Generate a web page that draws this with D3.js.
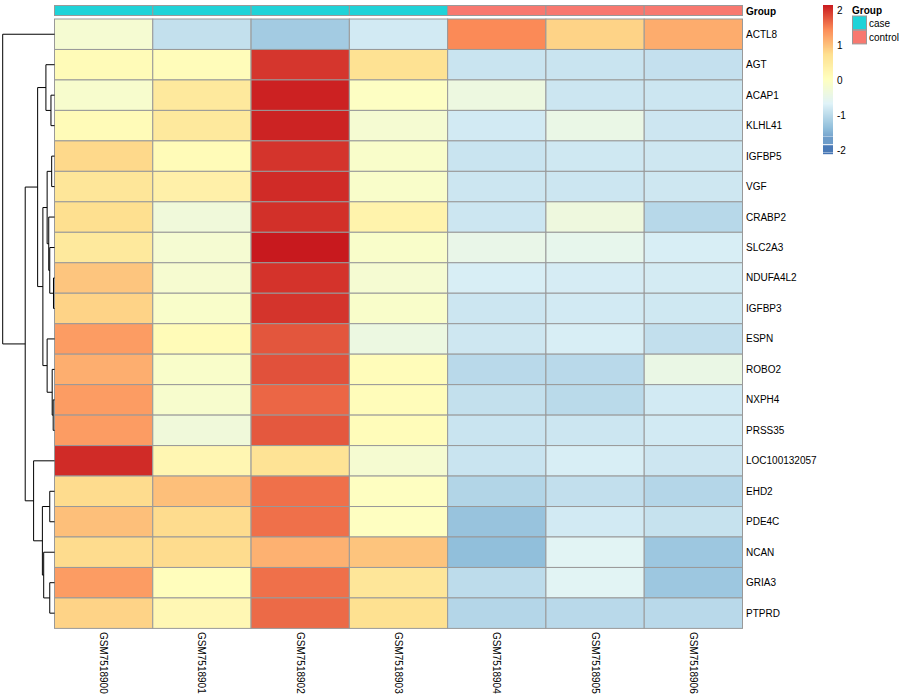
<!DOCTYPE html>
<html><head><meta charset="utf-8">
<script src="https://cdn.jsdelivr.net/npm/d3@7"></script>
<style>html,body{margin:0;padding:0;background:#fff;}svg{display:block;font-family:"Liberation Sans",Arial,Helvetica,sans-serif;}</style>
</head><body><svg id="chart" width="900" height="700"></svg>
<script>
const samples = ["GSM7518900","GSM7518901","GSM7518902","GSM7518903","GSM7518904","GSM7518905","GSM7518906"];
const groups = ["case","case","case","case","control","control","control"];
const groupLevels = ["case","control"];
const groupColors = ["#1FD3D8","#F8786F"];
const genes = ["ACTL8","AGT","ACAP1","KLHL41","IGFBP5","VGF","CRABP2","SLC2A3","NDUFA4L2","IGFBP3","ESPN","ROBO2","NXPH4","PRSS35","LOC100132057","EHD2","PDE4C","NCAN","GRIA3","PTPRD"];
const expr = [
  [-0.18,-0.91,-1.19,-0.77, 1.47, 0.86, 1.19],
  [ 0.15, 0.12, 1.99, 0.70,-0.85,-0.85,-0.90],
  [-0.12, 0.55, 2.12, 0.00,-0.36,-0.83,-0.83],
  [ 0.15, 0.55, 2.11,-0.18,-0.77,-0.43,-0.82],
  [ 0.81, 0.15, 2.00,-0.09,-0.85,-0.80,-0.81],
  [ 0.62, 0.38, 2.06,-0.09,-0.83,-0.83,-0.81],
  [ 0.75,-0.28, 2.03, 0.33,-0.83,-0.33,-1.01],
  [ 0.55,-0.18, 2.17,-0.09,-0.45,-0.50,-0.72],
  [ 0.98,-0.16, 2.01,-0.18,-0.72,-0.74,-0.76],
  [ 0.86,-0.08, 2.00,-0.08,-0.83,-0.77,-0.80],
  [ 1.32, 0.15, 1.79,-0.37,-0.81,-0.72,-0.92],
  [ 1.17,-0.08, 1.82, 0.12,-1.00,-1.00,-0.42],
  [ 1.32,-0.12, 1.69, 0.12,-0.91,-0.99,-0.77],
  [ 1.32,-0.28, 1.78, 0.12,-0.85,-0.83,-0.77],
  [ 2.06, 0.25, 0.68,-0.17,-0.85,-0.72,-0.82],
  [ 0.78, 1.03, 1.63, 0.02,-1.06,-0.92,-1.04],
  [ 1.03, 0.78, 1.63, 0.02,-1.29,-0.77,-0.88],
  [ 0.78, 0.78, 1.15, 0.99,-1.35,-0.60,-1.24],
  [ 1.32, 0.10, 1.63, 0.62,-0.96,-0.60,-1.24],
  [ 0.86, 0.22, 1.67, 0.73,-1.04,-1.00,-1.00]
];
// row dendrogram merges: [left, right, height]; numbers refer to earlier merges
const dendroMerges = [
  ["NDUFA4L2","IGFBP3",1.0],   //0
  ["NXPH4","PRSS35",1.3],      //1
  ["ROBO2",1,2.3],             //2
  ["IGFBP5","VGF",2.8],        //3
  ["ACAP1","KLHL41",3.5],      //4
  ["SLC2A3",0,4.7],            //5
  ["EHD2","PDE4C",4.7],        //6
  ["GRIA3","PTPRD",4.7],       //7
  ["CRABP2",5,5.7],            //8
  [3,8,7.3],                   //9
  ["ESPN",2,7.3],              //10
  ["AGT",4,8.5],               //11
  ["NCAN",7,10.7],             //12
  [9,10,11.5],                 //13
  [6,12,12.0],                 //14
  [11,13,16.7],                //15
  ["LOC100132057",14,20.7],    //16
  [15,16,29.0],                //17
  ["ACTL8",17,51.3]            //18
];
const colorStops = [-2.05,-1.35,-0.65,0.05,0.75,1.45,2.17];
const colorHex = ["#4575B4","#91BFDB","#E0F3F8","#FFFFBF","#FEE090","#FC8D59","#C8191E"];
const legendTicks = [2,1,0,-1,-2];

const svg = d3.select("#chart");
const color = d3.scaleLinear().domain(colorStops).range(colorHex).interpolate(d3.interpolateRgb).clamp(true);
const x = d3.scaleBand().domain(samples).range([54.5, 742.5]);
const y = d3.scaleBand().domain(genes).range([19, 628.4]);
const border = "#999999";

// annotation bar
svg.append("g").selectAll("rect").data(samples).join("rect")
  .attr("x", d => x(d)).attr("y", 5.5).attr("width", x.bandwidth()).attr("height", 10)
  .attr("fill", (d,i) => groupColors[groupLevels.indexOf(groups[i])])
  .attr("stroke", border).attr("stroke-width", 1);
svg.append("text").attr("x", 746).attr("y", 14.5).attr("font-size", 10).attr("font-weight", "bold").text("Group");

// heatmap cells
const cells = [];
expr.forEach((row, r) => row.forEach((v, c) => cells.push({g: genes[r], s: samples[c], v})));
svg.append("g").selectAll("rect").data(cells).join("rect")
  .attr("x", d => x(d.s)).attr("y", d => y(d.g))
  .attr("width", x.bandwidth()).attr("height", y.bandwidth())
  .attr("fill", d => color(d.v)).attr("stroke", border).attr("stroke-width", 1);

// row labels
svg.append("g").selectAll("text").data(genes).join("text")
  .attr("x", 746).attr("y", d => y(d) + y.bandwidth()/2)
  .attr("dominant-baseline", "central").attr("font-size", 10).text(d => d);

// column labels
svg.append("g").selectAll("text").data(samples).join("text")
  .attr("transform", d => `translate(${x(d) + x.bandwidth()/2},632) rotate(90)`)
  .attr("dominant-baseline", "central").attr("font-size", 10).text(d => d);

// dendrogram
const hx = d3.scaleLinear().domain([0, 51.3]).range([54.5, 2.7]);
const nodes = [];
function info(ref) {
  if (typeof ref === "number") return nodes[ref];
  return {y: y(ref) + y.bandwidth()/2, h: 0};
}
const dg = svg.append("g").attr("fill", "none").attr("stroke", "#000").attr("stroke-width", 1);
dendroMerges.forEach(m => {
  const a = info(m[0]), b = info(m[1]), h = m[2];
  const p = d3.path();
  p.moveTo(hx(a.h), a.y); p.lineTo(hx(h), a.y); p.lineTo(hx(h), b.y); p.lineTo(hx(b.h), b.y);
  dg.append("path").attr("d", p.toString());
  nodes.push({y: (a.y + b.y)/2, h});
});

// color legend
const ly = d3.scaleLinear().domain([2, -2]).range([10.7, 150.7]);
const lg = svg.append("g");
const steps = d3.range(5, 135.5, 1);
lg.selectAll("rect.grad").data(steps).join("rect")
  .attr("x", 823).attr("y", d => d).attr("width", 10).attr("height", 1.2)
  .attr("fill", d => color(ly.invert(d + 0.5)));
const blocks = [[-1.68, 136.5, 144.2], [-2.0, 145.2, 152.6], [-2.05, 153, 154.2]];
lg.selectAll("rect.blk").data(blocks).join("rect")
  .attr("x", 823).attr("y", d => d[1]).attr("width", 10).attr("height", d => d[2] - d[1])
  .attr("fill", d => color(d[0]));
lg.selectAll("text").data(legendTicks).join("text")
  .attr("x", 837).attr("y", d => ly(d)).attr("dominant-baseline", "central")
  .attr("font-size", 10).text(d => d);

// group legend
svg.append("text").attr("x", 852).attr("y", 14).attr("font-size", 10).attr("font-weight", "bold").text("Group");
const gl = svg.append("g");
gl.selectAll("rect").data(groupLevels).join("rect")
  .attr("x", 852.5).attr("y", (d,i) => 16 + i*14.3).attr("width", 14).attr("height", 13.6)
  .attr("fill", (d,i) => groupColors[i]).attr("stroke", border).attr("stroke-width", 1);
gl.selectAll("text").data(groupLevels).join("text")
  .attr("x", 869).attr("y", (d,i) => 23 + i*14.3).attr("dominant-baseline", "central")
  .attr("font-size", 10).text(d => d);
</script></body></html>
